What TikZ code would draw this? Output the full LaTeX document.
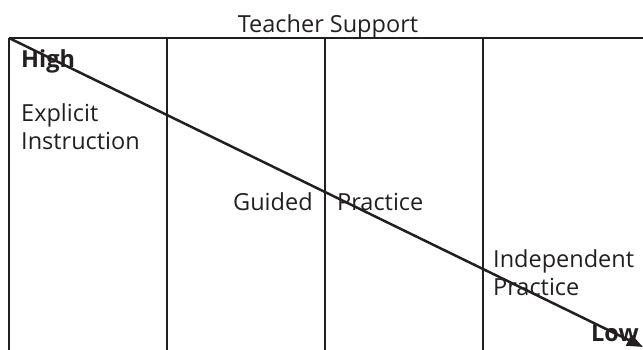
\documentclass[tikz,border=0pt]{standalone}
\usepackage{fontspec}
\setmainfont{Open Sans}
\usetikzlibrary{arrows.meta}
\definecolor{ink}{HTML}{231F20}
\begin{document}
\begin{tikzpicture}[x=1pt,y=1pt,
  grid/.style={line width=2.2pt,color=ink},
  lbl/.style={anchor=base west,inner sep=0pt,font=\fontsize{23.5}{28}\selectfont,text=ink},
  strong/.style={lbl,font=\fontsize{23.5}{28}\selectfont\bfseries}]
\useasboundingbox (0,0) rectangle (643,-349);
\begin{scope}
\clip (0,0) rectangle (643,-349);
% frame: top rule and four column dividers
\draw[grid] (9,-38) -- (643,-38);
\foreach \x in {9,167,325,483}
  \draw[grid] (\x,-38) -- (\x,-352);
% descending support arrow
\coordinate (hi) at (9,-38);
\coordinate (lo) at (643,-347);
\draw[line width=2.5pt,color=ink,-{Triangle[length=16pt,width=12pt]}] (hi) -- (lo);
\end{scope}
\node[lbl,anchor=base] (title) at (328,-32) {Teacher Support};
\node[strong] (high) at (21,-67) {High};
\node[lbl] (ex1) at (21,-121) {Explicit};
\node[lbl] (ex2) at (21,-149) {Instruction};
\node[lbl] (gd) at (233,-210) {Guided};
\node[lbl] (gp) at (337,-210) {Practice};
\node[lbl] (in1) at (493,-267) {Independent};
\node[lbl] (in2) at (493,-295) {Practice};
\node[strong] (low) at (591,-341) {Low};
\end{tikzpicture}
\end{document}
